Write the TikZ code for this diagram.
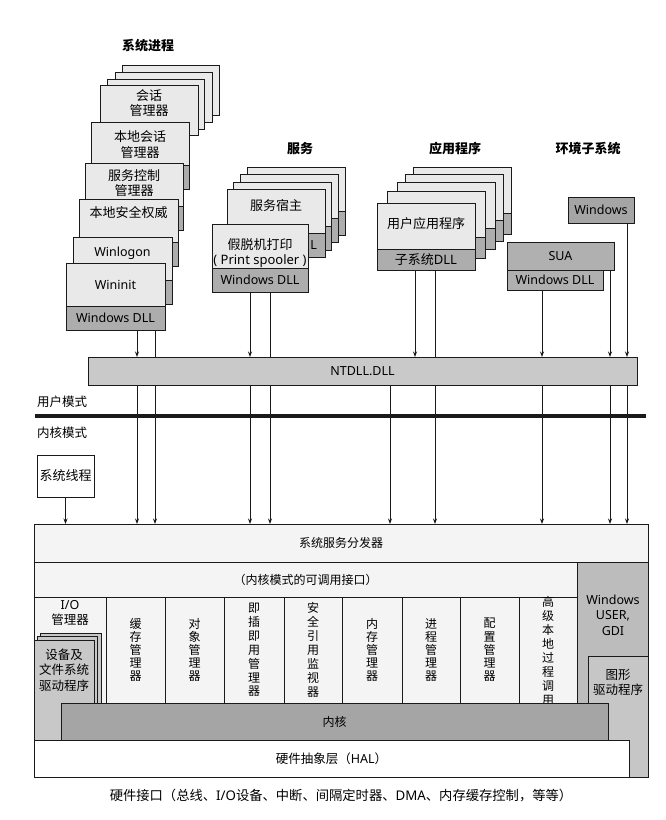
\documentclass[tikz,border=0pt]{standalone}
\usepackage{fontspec}
\setmainfont{Noto Sans CJK SC}
\newfontfamily\lat{Noto Sans}
\usetikzlibrary{arrows.meta}
\definecolor{cardc}{HTML}{E9E9E9}
\definecolor{dllc}{HTML}{ADADAD}
\definecolor{ntc}{HTML}{C9C9C9}
\definecolor{kerc}{HTML}{A5A5A5}
\definecolor{guic}{HTML}{BCBCBC}
\definecolor{grc}{HTML}{C6C6C6}
\definecolor{drvc}{HTML}{C8C8C8}
\definecolor{rowc}{HTML}{F4F4F4}
\definecolor{envc}{HTML}{B0B0B0}
\definecolor{linec}{HTML}{1A1A1A}
\newcommand\stackcard[6]{%
  \node[lite, minimum width=#4pt, minimum height=#5pt] (#1) at (#2,#3) {};
  \node[dll, minimum width=#4pt, minimum height=#6pt] (#1d) at (#1.south west) {};
}
\begin{document}
\begin{tikzpicture}[x=1pt,y=-1pt,
  box/.style={draw=linec, line width=0.9pt, inner sep=0pt, outer sep=0pt, anchor=north west},
  lite/.style={box, fill=cardc},
  dll/.style={box, fill=dllc},
  t/.style={inner sep=0pt, align=center, font=\fontsize{13}{15.5}\selectfont},
  s/.style={inner sep=0pt, align=center, font=\fontsize{12.5}{15}\selectfont},
  tl/.style={inner sep=0pt, align=center, font=\lat\fontsize{12.5}{15.5}\selectfont},
  ttl/.style={inner sep=0pt, font=\fontsize{13}{15}\selectfont\bfseries},
  v/.style={inner sep=0pt, align=center, font=\fontsize{12}{13.2}\selectfont},
  vv/.style={inner sep=0pt, align=center, font=\fontsize{12}{13.9}\selectfont},
  arr/.style={draw=linec, line width=0.8pt, -{Stealth[length=5.5pt,width=4pt]}},
  ln/.style={draw=linec, line width=0.8pt}]
\useasboundingbox (0,0) rectangle (666,820);

% titles
\node[ttl] (tsys) at (148,46) {系统进程};
\node[ttl] (tsvc) at (300,149) {服务};
\node[ttl] (tapp) at (455,149) {应用程序};
\node[ttl] (tenv) at (588,149) {环境子系统};

% system processes
\node[lite, minimum width=97pt, minimum height=50pt] (sb1) at (122,65) {};
\node[lite, minimum width=97pt, minimum height=50pt] (sb2) at (115,72) {};
\node[lite, minimum width=97pt, minimum height=50pt] (sb3) at (107,79) {};
\node[lite, minimum width=98pt, minimum height=50pt] (smss) at (100,85) {};
\node[t] (tsmss) at (149,103) {会话\\管理器};
\stackcard{lsm}{91}{122}{98}{43}{24}
\node[t] (tlsm) at (140,144.5) {本地会话\\管理器};
\stackcard{scm}{85}{163}{98}{43}{24}
\node[t] (tscm) at (134,183) {服务控制\\管理器};
\stackcard{lsa}{79}{199}{99}{43}{24}
\node[t] (tlsa) at (128.5,213) {本地安全权威};
\stackcard{wl}{73}{237}{99}{43}{24}
\node[tl] (twl) at (122.5,253) {Winlogon};
\stackcard{wi}{66}{263}{99}{43}{24}
\node[tl] (twi) at (115.5,285) {Wininit};
\node[tl] (twid) at (wid) {Windows DLL};

% services
\stackcard{sv1}{247}{167}{98}{44}{24}
\stackcard{sv2}{240}{174}{98}{44}{24}
\stackcard{sv3}{233}{182}{98}{44}{24}
\stackcard{svh}{227}{189}{98}{44}{24}
\node[t] (tsvh) at (276,206) {服务宿主};
\node[tl, anchor=east] (tsvhd) at (317,245) {L};
\stackcard{spl}{212}{224}{96}{44}{24}
\node[t] (tspl) at (260,253) {假脱机打印\\{\lat ( Print spooler )}};
\node[tl] (tspld) at (spld) {Windows DLL};

% applications
\stackcard{ap1}{413}{167}{98}{46}{21}
\stackcard{ap2}{405}{174}{98}{46}{21}
\stackcard{ap3}{397}{182}{98}{46}{21}
\stackcard{ap4}{387}{191}{98}{46}{21}
\stackcard{app}{377}{203}{98}{46}{21}
\node[t] (tapp1) at (426,224) {用户应用程序};
\node[t] (tappd) at (appd) {子系统{\lat DLL}};

% environment subsystems
\node[box, fill=kerc, minimum width=66pt, minimum height=26pt, font=\lat\fontsize{12.5}{15}\selectfont] (ewin) at (568,197) {Windows};
\node[box, fill=envc, minimum width=107pt, minimum height=28pt, font=\lat\fontsize{12.5}{15}\selectfont] (esua) at (507,242) {SUA};
\node[box, fill=envc, minimum width=96pt, minimum height=20pt, font=\lat\fontsize{12.5}{15}\selectfont] (edll) at (507,270) {Windows DLL};

% NTDLL
\node[box, fill=ntc, minimum width=549pt, minimum height=28pt, font=\lat\fontsize{12.5}{15}\selectfont] (nt) at (88,357) {NTDLL.DLL};

% mode separator
\coordinate (ml) at (35,416);
\coordinate (mr) at (646,416);
\draw[linec, line width=3.6pt] (ml) -- (mr);
\node[s, anchor=west] (um) at (37,402) {用户模式};
\node[s, anchor=west] (km) at (37,433) {内核模式};

% system threads
\node[box, fill=white, minimum width=57pt, minimum height=42pt, font=\fontsize{13}{15}\selectfont] (sth) at (37,455) {系统线程};

% kernel mode
\node[box, fill=rowc, minimum width=614pt, minimum height=38pt, font=\fontsize{12}{15}\selectfont] (disp) at (34,524) {系统服务分发器};
\node[box, fill=rowc, minimum width=543pt, minimum height=35pt, font=\fontsize{12}{15}\selectfont] (call) at (34,562) {（内核模式的可调用接口）};
\node[box, fill=guic, minimum width=71pt, minimum height=215pt] (gui) at (577,562) {};
\node[tl] (tgui) at (613,615) {Windows\\USER,\\GDI};
\node[box, fill=grc, minimum width=60pt, minimum height=121pt] (gfx) at (588,656) {};
\node[s] (tgfx) at (618,682) {图形\\驱动程序};

\node[box, fill=rowc, minimum width=72pt, minimum height=106pt] (cio) at (34,597) {};
\node[box, fill=rowc, minimum width=59pt, minimum height=106pt] (c1) at (106,597) {};
\node[box, fill=rowc, minimum width=59pt, minimum height=106pt] (c2) at (165,597) {};
\node[box, fill=rowc, minimum width=60pt, minimum height=106pt] (c3) at (224,597) {};
\node[box, fill=rowc, minimum width=58pt, minimum height=106pt] (c4) at (284,597) {};
\node[box, fill=rowc, minimum width=60pt, minimum height=106pt] (c5) at (342,597) {};
\node[box, fill=rowc, minimum width=58pt, minimum height=106pt] (c6) at (402,597) {};
\node[box, fill=rowc, minimum width=59pt, minimum height=106pt] (c7) at (460,597) {};
\node[box, fill=rowc, minimum width=58pt, minimum height=106pt] (c8) at (519,597) {};
\node[s] (tcio) at (70,613) {{\lat I/O}\\管理器};
\node[v] (tc1) at (c1) {缓\\存\\管\\理\\器};
\node[v] (tc2) at (c2) {对\\象\\管\\理\\器};
\node[vv] (tc3) at (c3) {即\\插\\即\\用\\管\\理\\器};
\node[vv] (tc4) at (c4) {安\\全\\引\\用\\监\\视\\器};
\node[v] (tc5) at (c5) {内\\存\\管\\理\\器};
\node[v] (tc6) at (c6) {进\\程\\管\\理\\器};
\node[v] (tc7) at (c7) {配\\置\\管\\理\\器};
\node[vv] (tc8) at ([yshift=-1pt]c8.center) {高\\级\\本\\地\\过\\程\\调\\用};

\node[box, fill=drvc, minimum width=61pt, minimum height=107pt] (drv3) at (40,633) {};
\node[box, fill=drvc, minimum width=60pt, minimum height=104pt] (drv2) at (37,636) {};
\node[box, fill=drvc, minimum width=60pt, minimum height=100pt] (drv1) at (34,640) {};
\node[inner sep=0pt, align=center, font=\fontsize{12.5}{15.5}\selectfont] (tdrv) at (64,670) {设备及\\文件系统\\驱动程序};

\node[box, fill=kerc, minimum width=547pt, minimum height=37pt, font=\fontsize{12}{15}\selectfont] (ker) at (61,703) {内核};
\node[box, fill=white, minimum width=595pt, minimum height=37pt, font=\fontsize{12.5}{15}\selectfont] (hal) at (34,740) {硬件抽象层（{\lat HAL}）};
\node[inner sep=0pt, font=\fontsize{13.3}{15}\selectfont] (cap) at (341,796) {硬件接口（总线、{\lat I/O}设备、中断、间隔定时器、{\lat DMA}、内存缓存控制，等等）};

% connectors: system processes
\draw[arr] (wid.south -| 137,0) -- (nt.north -| 137,0);
\draw[ln] (wid.south -| 155,0) -- (nt.north -| 155,0);
\draw[arr] (nt.south -| 137,0) -- (disp.north -| 137,0);
\draw[arr] (nt.south -| 155,0) -- (disp.north -| 155,0);
% services
\draw[arr] (spld.south -| 250,0) -- (nt.north -| 250,0);
\draw[ln] (spld.south -| 270,0) -- (nt.north -| 270,0);
\draw[arr] (nt.south -| 250,0) -- (disp.north -| 250,0);
\draw[arr] (nt.south -| 270,0) -- (disp.north -| 270,0);
% applications
\draw[arr] (appd.south -| 415,0) -- (nt.north -| 415,0);
\draw[ln] (appd.south -| 435,0) -- (nt.north -| 435,0);
\draw[arr] (nt.south -| 390,0) -- (disp.north -| 390,0);
\draw[arr] (nt.south -| 435,0) -- (disp.north -| 435,0);
% environment subsystems
\draw[arr] (edll.south -| 542,0) -- (nt.north -| 542,0);
\draw[arr] (esua.south -| 610,0) -- (nt.north -| 610,0);
\draw[arr] (ewin.south -| 627,0) -- (nt.north -| 627,0);
\draw[arr] (nt.south -| 542,0) -- (disp.north -| 542,0);
\draw[arr] (nt.south -| 610,0) -- (disp.north -| 610,0);
\draw[arr] (nt.south -| 627,0) -- (disp.north -| 627,0);
% system threads
\draw[arr] (sth.south) -- (disp.north -| sth.south);
\end{tikzpicture}
\end{document}
